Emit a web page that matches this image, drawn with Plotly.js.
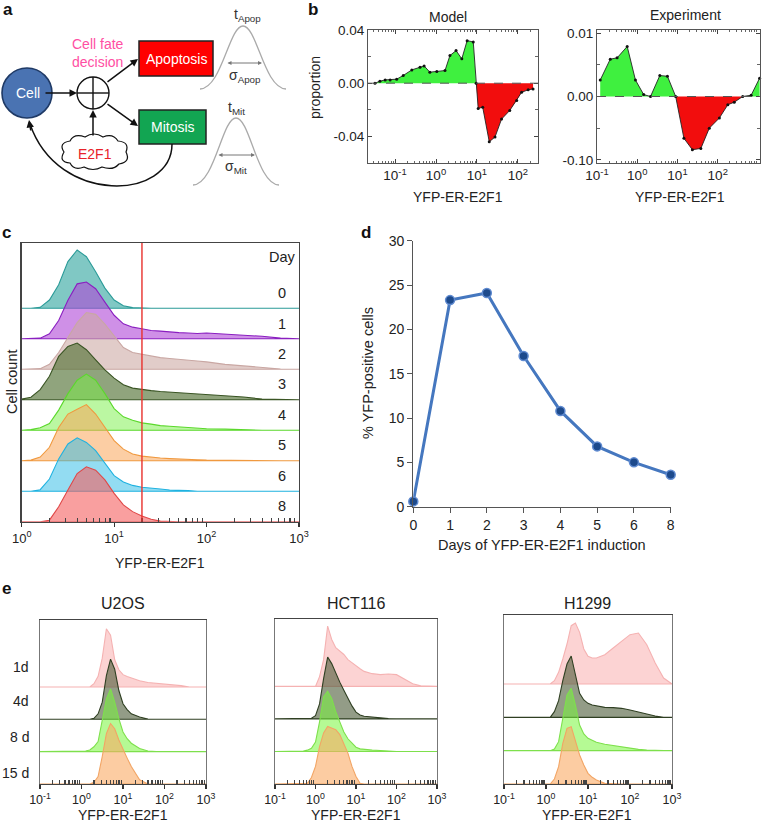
<!DOCTYPE html>
<html><head><meta charset="utf-8">
<script src="https://cdn.plot.ly/plotly-3.0.1.min.js"></script>
<style>html,body{margin:0;padding:0;background:#fff}#chart{width:768px;height:833px}</style>
</head><body><div id="chart"></div>
<script>
// ================= DATA =================
// Panel b – Model: log10(YFP-ER-E2F1) and proportion difference
const modelLogX = [-1.49,-1.37,-1.24,-1.12,-0.96,-0.80,-0.59,-0.39,-0.29,-0.15,0.02,0.22,0.34,0.49,0.63,0.76,0.91,0.98,1.03,1.14,1.30,1.44,1.60,1.80,1.97,2.09,2.25,2.37];
const modelProp = [0,0.0015,0.0025,0.0025,0.003,0.0058,0.010,0.012,0.013,0.0083,0.0088,0.0095,0.0208,0.0245,0.0183,0.032,0.031,0,-0.019,-0.018,-0.044,-0.0405,-0.027,-0.0205,-0.013,-0.0068,-0.005,-0.0043];
// Panel b – Experiment
const expLogX = [-0.92,-0.67,-0.50,-0.25,-0.045,0.16,0.33,0.56,0.75,0.955,1.16,1.37,1.58,1.79,2.04,2.25,2.41,2.62,2.83,3.04];
const expProp = [0.0026,0.0059,0.0061,0.0079,0.0026,0.0003,0,0.0033,0.0032,0,-0.0066,-0.0084,-0.0082,-0.005,-0.0034,-0.0013,-0.0009,0,0.0002,0.0029];
const expTickVals = [-0.01,0,0.01];
const expTickText = ['-0.10','0.00','0.01'];
const modelTickVals = [-0.04,0,0.04];
const modelTickText = ['-0.04','0.00','0.04'];

// Panel c – histograms per day (log10 intensity grid, heights in row units)
const cDays = ['0','1','2','3','4','5','6','8'];
const cLogGrid = [0,0.1,0.2,0.3,0.4,0.5,0.6,0.7,0.8,0.9,1.0,1.1,1.2,1.3,1.4,1.5,1.6,1.7,1.8,1.9,2.0,2.2,2.4,2.6,2.8,3.0];
const cDay0 = [0,0,0.03,0.27,0.77,1.53,1.91,1.69,1.2,0.66,0.27,0.08,0.02,0,0,0,0,0,0,0,0,0,0,0,0,0];
const cDay1 = [0,0,0.02,0.16,0.6,1.26,1.8,1.86,1.64,1.2,0.77,0.49,0.38,0.33,0.27,0.25,0.22,0.2,0.19,0.17,0.19,0.16,0.13,0.08,0.02,0];
const cDay2 = [0,0,0.02,0.16,0.55,1.04,1.53,1.86,1.8,1.48,1.09,0.71,0.55,0.49,0.44,0.38,0.35,0.33,0.3,0.27,0.24,0.16,0.11,0.05,0.01,0];
const cDay3 = [0.02,0.08,0.33,0.77,1.42,1.75,1.86,1.64,1.31,0.98,0.71,0.49,0.38,0.33,0.3,0.27,0.25,0.22,0.2,0.17,0.15,0.13,0.09,0.02,0,0];
const cDay4 = [0,0.02,0.08,0.22,0.66,1.2,1.64,1.84,1.64,1.2,0.71,0.44,0.33,0.24,0.2,0.15,0.13,0.11,0.09,0.07,0.05,0.04,0.01,0,0,0];
const cDay5 = [0,0.02,0.12,0.44,1.09,1.53,1.69,1.84,1.53,1.09,0.66,0.38,0.22,0.15,0.11,0.09,0.07,0.05,0.04,0.03,0.02,0.01,0,0,0,0];
const cDay6 = [0,0,0.05,0.4,1.06,1.55,1.75,1.6,1.33,0.9,0.51,0.3,0.19,0.13,0.09,0.07,0.04,0.04,0.02,0,0,0,0,0,0,0];
const cDay8 = [0,0,0,0.05,0.49,1.04,1.58,1.8,1.69,1.37,0.93,0.55,0.33,0.19,0.08,0.02,0,0,0,0,0,0,0,0,0,0];
const cGateThreshold = 20;

// Panel d – % YFP-positive cells
const dDays = ['0','1','2','3','4','5','6','8'];
const dPercent = [0.6,23.3,24.1,17.0,10.8,6.8,5.0,3.6];

// Panel e – cell lines, rows 1d/4d/8d/15d
const eRows = ['1d','4d','8 d','15 d'];
const eLogGrid = [-1,-0.4,-0.3,-0.2,-0.1,0,0.1,0.2,0.3,0.4,0.5,0.6,0.7,0.8,0.9,1.0,1.1,1.2,1.4,1.6,1.8,2.0,2.2,2.4,2.6,2.8,3.0];
const u2os1d  = [0,0,0,0,0,0,0,0,0.1,0.33,0.89,1.8,1.6,0.84,0.53,0.38,0.32,0.28,0.19,0.14,0.12,0.1,0.07,0.04,0,0,0];
const u2os4d  = [0,0,0,0,0,0,0,0,0.03,0.17,0.53,1.35,1.86,1.55,0.89,0.48,0.3,0.17,0.07,0.01,0,0,0,0,0,0,0];
const u2os8d  = [0,0,0,0,0,0,0.02,0.05,0.15,0.31,0.92,1.63,1.94,1.53,1.02,0.61,0.4,0.26,0.1,0.02,0,0,0,0,0,0,0];
const u2os15d = [0,0,0,0,0,0,0,0,0.05,0.23,0.85,1.56,1.87,1.71,1.36,1.05,0.8,0.54,0.13,0,0,0,0,0,0,0,0];
const hct1d  = [0,0,0,0,0,0,0.3,0.82,1.85,1.44,1.19,1.08,0.98,0.82,0.72,0.62,0.54,0.46,0.39,0.36,0.38,0.36,0.21,0.08,0.02,0,0];
const hct4d  = [0,0,0,0,0.02,0.1,0.46,1.24,1.9,1.7,1.39,1.13,0.88,0.62,0.4,0.21,0.12,0.08,0.05,0.03,0.01,0,0,0,0,0,0];
const hct8d  = [0,0,0.01,0.04,0.1,0.29,0.91,1.68,1.85,1.63,1.22,0.91,0.6,0.39,0.25,0.13,0.08,0.06,0.04,0.03,0.01,0,0,0,0,0,0];
const hct15d = [0,0,0,0.02,0.2,0.54,1.15,1.57,1.77,1.72,1.67,1.52,1.26,0.95,0.54,0.23,0.02,0,0,0,0,0,0,0,0,0,0];
const h1299_1d  = [0,0,0,0,0,0,0,0.1,0.35,0.75,1.2,1.75,1.83,1.55,1.05,0.83,0.78,0.78,0.88,1.08,1.28,1.48,1.53,1.18,0.63,0.18,0];
const h1299_4d  = [0,0,0,0,0,0,0,0.17,0.5,1.1,1.6,1.84,1.3,0.72,0.52,0.42,0.37,0.34,0.3,0.29,0.27,0.22,0.17,0.1,0.04,0,0];
const h1299_8d  = [0,0,0,0,0,0,0,0.05,0.27,0.97,1.67,1.87,1.37,0.77,0.5,0.37,0.3,0.25,0.19,0.15,0.12,0.07,0.04,0.02,0,0,0];
const h1299_15d = [0,0,0,0,0,0,0,0.15,0.52,1.22,1.67,1.72,1.32,0.87,0.57,0.32,0.2,0.12,0.02,0,0,0,0,0,0,0,0];

const logTickValsC = [1,10,100,1000];
const logTickTextC = ['10<sup>0</sup>','10<sup>1</sup>','10<sup>2</sup>','10<sup>3</sup>'];
const logTickValsB = [0.1,1,10,100];
const logTickTextB = ['10<sup>-1</sup>','10<sup>0</sup>','10<sup>1</sup>','10<sup>2</sup>'];
const logTickValsE = [0.1,1,10,100,1000];
const logTickTextE = ['10<sup>-1</sup>','10<sup>0</sup>','10<sup>1</sup>','10<sup>2</sup>','10<sup>3</sup>'];

// ================= HELPERS =================
const W = 768, H = 833;
const FONT = 'Liberation Sans, Arial, Helvetica, sans-serif';
const xd = (l, r) => [l / W, r / W];
const yd = (t, b) => [1 - b / H, 1 - t / H];
function ann(px, py, text, size, extra) {
  return Object.assign({xref:'paper', yref:'paper', x:px/W, y:1-py/H, text:text, showarrow:false,
    xanchor:'center', yanchor:'middle', font:{family:FONT, size:size||14, color:'#222'}}, extra||{});
}
function logMinor(lo, hi) { const v=[]; for (let d=lo; d<hi; d++) for (let m=2; m<=9; m++) v.push(m*Math.pow(10,d)); return v; }
function ridge(grid, h, base, xa, ya, lineColor, fillColor) {
  const xs = grid.map(l => Math.pow(10, l));
  const ys = h.map(v => base + v);
  return {type:'scatter', mode:'lines', x: xs.concat([xs[xs.length-1], xs[0]]), y: ys.concat([base, base]),
    fill:'toself', fillcolor: fillColor, line:{color: lineColor, width:1.1}, xaxis: xa, yaxis: ya,
    hoverinfo:'skip', showlegend:false};
}

const traces = [];

// ---- Panel b traces
function diffTraces(logX, vals, xa, ya) {
  const xs = logX.map(l => Math.pow(10, l));
  return [
    {type:'scatter', mode:'lines', x: xs, y: vals.map(v => Math.max(v,0)), fill:'tozeroy', fillcolor:'#3ff03f',
     line:{width:0, color:'rgba(0,0,0,0)'}, xaxis:xa, yaxis:ya, showlegend:false, hoverinfo:'skip'},
    {type:'scatter', mode:'lines', x: xs, y: vals.map(v => Math.min(v,0)), fill:'tozeroy', fillcolor:'#f20d0d',
     line:{width:0, color:'rgba(0,0,0,0)'}, xaxis:xa, yaxis:ya, showlegend:false, hoverinfo:'skip'},
    {type:'scatter', mode:'lines+markers', x: xs, y: vals, line:{color:'#222', width:0.9},
     marker:{size:3, color:'#111'}, xaxis:xa, yaxis:ya, showlegend:false, hoverinfo:'skip', cliponaxis:false}
  ];
}
traces.push(...diffTraces(modelLogX, modelProp, 'x2', 'y2'));
traces.push(...diffTraces(expLogX, expProp, 'x3', 'y3'));

// ---- Panel c traces (top row first, lower rows drawn over)
const cSeries = [cDay0,cDay1,cDay2,cDay3,cDay4,cDay5,cDay6,cDay8];
const cLines = ['#2b9b98','#8a1fc0','#c9a7a3','#3a5524','#5bd82c','#f0993f','#1fb2e0','#e04747'];
const cFills = ['rgba(60,170,165,0.65)','rgba(175,70,215,0.6)','rgba(205,170,165,0.6)','rgba(85,115,55,0.65)',
                'rgba(120,240,70,0.5)','rgba(250,165,90,0.55)','rgba(40,185,230,0.5)','rgba(245,95,95,0.6)'];
cSeries.forEach((s, i) => traces.push(ridge(cLogGrid, s, 7 - i, 'x4', 'y4', cLines[i], cFills[i])));

// ---- Panel d
traces.push({type:'scatter', mode:'lines+markers', x: dDays, y: dPercent, xaxis:'x5', yaxis:'y5',
  line:{color:'#4577bf', width:3}, marker:{size:9, color:'#1d4a8c', line:{color:'#5f8ad0', width:1.5}},
  cliponaxis:false, showlegend:false, hoverinfo:'skip'});

// ---- Panel e
const eLines = ['#f5b2b2','#2f3f22','#7ee04c','#f2a565'];
const eFills = ['rgba(250,175,175,0.55)','rgba(75,90,55,0.6)','rgba(120,245,60,0.55)','rgba(250,170,100,0.6)'];
[[u2os1d,u2os4d,u2os8d,u2os15d,'x6','y6'],[hct1d,hct4d,hct8d,hct15d,'x7','y7'],
 [h1299_1d,h1299_4d,h1299_8d,h1299_15d,'x8','y8']].forEach(p => {
  for (let i = 0; i < 4; i++) traces.push(ridge(eLogGrid, p[i], 3 - i, p[4], p[5], eLines[i], eFills[i]));
});

// ================= LAYOUT =================
function logAxisB(dom, range, anchor) {
  return {domain: dom, anchor: anchor, type:'log', range: range, tickmode:'array', tickvals: logTickValsB, ticktext: logTickTextB,
    ticks:'inside', ticklen:4, tickcolor:'#444', showline:true, linecolor:'#555', linewidth:1, mirror:'ticks',
    showgrid:false, zeroline:false, tickfont:{family:FONT, size:13.5, color:'#222'},
    minor:{tickmode:'array', tickvals: logMinor(-2,3), ticks:'inside', ticklen:2, tickcolor:'#666'}};
}
function ridgeX(dom, range, tv, tt, size, anchor) {
  return {domain: dom, anchor: anchor, type:'log', range: range, tickmode:'array', tickvals: tv, ticktext: tt,
    ticks:'outside', ticklen:4, tickcolor:'#333', tickwidth:1.2, showline:true, linecolor:'#444', linewidth:1.3, mirror:true,
    showgrid:false, zeroline:false, tickfont:{family:FONT, size:size, color:'#222'},
    minor:{tickmode:'array', tickvals: logMinor(range[0], range[1]), ticks:'inside', ticklen:4, tickcolor:'#444'}};
}
function ridgeY(dom, range, anchor) {
  return {domain: dom, anchor: anchor, range: range, showticklabels:false, ticks:'', showgrid:false, zeroline:false,
    showline:true, linecolor:'#444', linewidth:1.3, mirror:true};
}

const eFrameColor = '#777';
const layout = {
  width: W, height: H, margin:{l:0, r:0, t:0, b:0}, paper_bgcolor:'#fff', plot_bgcolor:'rgba(0,0,0,0)',
  font:{family:FONT, color:'#222'}, showlegend:false,
  // Panel a diagram canvas (1 unit = 1 px)
  xaxis: {domain: xd(0,300), range:[0,300], anchor:'y', visible:false},
  yaxis: {domain: yd(0,200), range:[200,0], anchor:'x', visible:false},
  // Panel b
  xaxis2: logAxisB(xd(368,538), [-1.66, 2.49], 'y2'),
  yaxis2: {domain: yd(30,163), anchor:'x2', range:[-0.06,0.04], tickmode:'array', tickvals: modelTickVals, ticktext: modelTickText,
    ticks:'inside', ticklen:4, tickcolor:'#444', showline:true, linecolor:'#555', mirror:'ticks', showgrid:false, zeroline:false,
    tickfont:{family:FONT, size:13.5, color:'#222'}, minor:{tickmode:'array', tickvals:[-0.02,0.02], ticks:'inside', ticklen:3, tickcolor:'#666'}},
  xaxis3: logAxisB(xd(597,760), [-1, 3.05], 'y3'),
  yaxis3: {domain: yd(30,163), anchor:'x3', range:[-0.0105,0.0105], tickmode:'array', tickvals: expTickVals, ticktext: expTickText,
    ticks:'inside', ticklen:4, tickcolor:'#444', showline:true, linecolor:'#555', mirror:'ticks', showgrid:false, zeroline:false,
    tickfont:{family:FONT, size:13.5, color:'#222'}, minor:{tickmode:'array', tickvals:[-0.005,0.005], ticks:'inside', ticklen:3, tickcolor:'#666'}},
  // Panel c
  xaxis4: ridgeX(xd(21.7,299), [0,3], logTickValsC, logTickTextC, 13, 'y4'),
  yaxis4: ridgeY(yd(243,521.7), [0, 9.14], 'x4'),
  // Panel d
  xaxis5: {domain: xd(413.3,670.7), anchor:'y5', type:'category', categoryorder:'array', categoryarray: dDays, range:[0,7],
    ticks:'outside', ticklen:5, tickcolor:'#555', showline:true, linecolor:'#555', linewidth:1.2, showgrid:false, zeroline:false,
    tickfont:{family:FONT, size:14, color:'#222'}},
  yaxis5: {domain: yd(240.7,506.7), anchor:'x5', range:[0,30], dtick:5, ticks:'outside', ticklen:5, tickcolor:'#555',
    showline:true, linecolor:'#555', linewidth:1.2, showgrid:false, zeroline:false, tickfont:{family:FONT, size:14, color:'#222'}},
  // Panel e
  xaxis6: ridgeX(xd(40,206), [-1,3], logTickValsE, logTickTextE, 12.5, 'y6'),
  yaxis6: ridgeY(yd(620,784), [0,5.07], 'x6'),
  xaxis7: ridgeX(xd(275,437), [-1,3], logTickValsE, logTickTextE, 12.5, 'y7'),
  yaxis7: ridgeY(yd(619,784), [0,5.07], 'x7'),
  xaxis8: ridgeX(xd(504,672), [-1,3], logTickValsE, logTickTextE, 12.5, 'y8'),
  yaxis8: ridgeY(yd(615,784), [0,5.07], 'x8'),
  shapes: [], annotations: []
};
['yaxis6','yaxis7','yaxis8'].forEach(k => layout[k].linecolor = eFrameColor);

const S = layout.shapes, A = layout.annotations;
// zero lines in b
S.push({type:'line', xref:'x2 domain', yref:'y2', x0:0, x1:1, y0:0, y1:0, line:{color:'#555', width:1, dash:'dash'}});
S.push({type:'line', xref:'x3 domain', yref:'y3', x0:0, x1:1, y0:0, y1:0, line:{color:'#555', width:1, dash:'dash'}});
// gate line in c
S.push({type:'line', xref:'x4', yref:'y4 domain', x0:cGateThreshold, x1:cGateThreshold, y0:0, y1:1, line:{color:'#e8302c', width:1.4}});

// ---- Panel a diagram shapes
const dx = {xref:'x', yref:'y'};
S.push(Object.assign({type:'circle', x0:2, x1:52, y0:68, y1:118, fillcolor:'#4a73b2', line:{color:'#1f3a66', width:1.6}}, dx));
S.push(Object.assign({type:'circle', x0:77, x1:109, y0:77, y1:109, fillcolor:'#fff', line:{color:'#111', width:1.4}}, dx));
S.push(Object.assign({type:'line', x0:93, x1:93, y0:77, y1:109, line:{color:'#111', width:1.4}}, dx));
S.push(Object.assign({type:'line', x0:77, x1:109, y0:93, y1:93, line:{color:'#111', width:1.4}}, dx));
S.push(Object.assign({type:'rect', x0:139, x1:213, y0:41, y1:76, fillcolor:'#ff0000', line:{color:'#222', width:1.5}}, dx));
S.push(Object.assign({type:'rect', x0:139, x1:206, y0:110, y1:144, fillcolor:'#12a552', line:{color:'#222', width:1.5}}, dx));
S.push(Object.assign({type:'path', path:'M 64 152 Q 58 143 70 141 Q 74 133 85 137 Q 94 131 103 137 Q 113 133 118 141 Q 130 142 126 152 Q 131 162 119 164 Q 113 171 102 167 Q 93 172 84 167 Q 74 171 70 163 Q 58 162 64 152 Z',
  fillcolor:'#fff', line:{color:'#111', width:1.2}}, dx));
S.push(Object.assign({type:'path', path:'M 172 144 C 172 200, 58 206, 30 124', line:{color:'#111', width:1.5}}, dx));
S.push(Object.assign({type:'path', path:'M 200 89 C 222 88, 229 26, 243 26 C 257 26, 264 88, 286 89', line:{color:'#aaa', width:1.3}}, dx));
S.push(Object.assign({type:'path', path:'M 193 185 C 215 184, 222 118, 236 118 C 250 118, 257 184, 279 185', line:{color:'#aaa', width:1.3}}, dx));

function arrow(x, y, ax, ay, extra) {
  return Object.assign({xref:'x', yref:'y', axref:'x', ayref:'y', x:x, y:y, ax:ax, ay:ay, text:'', showarrow:true,
    arrowhead:2, arrowsize:1, arrowwidth:1.5, arrowcolor:'#111', standoff:0, startstandoff:0}, extra||{});
}
A.push(arrow(77, 93, 44, 93));
A.push(arrow(138, 59, 106, 83));
A.push(arrow(138, 126, 106, 103));
A.push(arrow(93, 110, 93, 137));
A.push(arrow(29, 120, 31, 132));
A.push(arrow(262, 63, 226, 63, {arrowside:'end+start', arrowhead:2, startarrowhead:2, arrowwidth:1, arrowcolor:'#777', arrowsize:0.8, startarrowsize:0.8}));
A.push(arrow(255, 155, 217, 155, {arrowside:'end+start', arrowhead:2, startarrowhead:2, arrowwidth:1, arrowcolor:'#777', arrowsize:0.8, startarrowsize:0.8}));

// diagram texts
A.push(ann(28, 93, 'Cell', 14, {font:{family:FONT, size:14, color:'#fff'}}));
A.push(ann(98, 53, 'Cell fate<br>decision', 14, {font:{family:FONT, size:14, color:'#ff4fa3'}}));
A.push(ann(176, 59, 'Apoptosis', 14, {font:{family:FONT, size:14, color:'#fff'}}));
A.push(ann(173, 127, 'Mitosis', 14, {font:{family:FONT, size:14, color:'#fff'}}));
A.push(ann(95, 154, 'E2F1', 14, {font:{family:FONT, size:14, color:'#e8222a'}}));
A.push(ann(247, 15, 't<sub>Apop</sub>', 14, {font:{family:FONT, size:14, color:'#333'}}));
A.push(ann(245, 76, 'σ<sub>Apop</sub>', 14, {font:{family:FONT, size:14, color:'#333'}}));
A.push(ann(236, 108, 't<sub>Mit</sub>', 14, {font:{family:FONT, size:14, color:'#333'}}));
A.push(ann(236, 167, 'σ<sub>Mit</sub>', 14, {font:{family:FONT, size:14, color:'#333'}}));

// panel letters
const bold = s => '<b>' + s + '</b>';
[['a',8,9],['b',313,9],['c',6,233],['d',366,233],['e',6,588]].forEach(p =>
  A.push(ann(p[1], p[2], bold(p[0]), 17, {font:{family:FONT, size:17, color:'#111'}})));

// panel b texts
A.push(ann(448, 17, 'Model', 14));
A.push(ann(685, 15, 'Experiment', 14));
A.push(ann(315, 88, 'proportion', 14, {textangle:-90}));
A.push(ann(458, 197, 'YFP-ER-E2F1', 14));
A.push(ann(680, 197, 'YFP-ER-E2F1', 14));

// panel c texts (annotation x on a log axis is given in log10 units)
A.push(ann(12, 382, 'Cell count', 14.5, {textangle:-90}));
A.push(ann(160, 563, 'YFP-ER-E2F1', 14));
const dayLabelLogX = 2.82;
A.push({xref:'x4', yref:'y4', x: dayLabelLogX, y: 8.68, text:'Day', showarrow:false, font:{family:FONT, size:14.5, color:'#222'}});
cDays.forEach((d, i) => A.push({xref:'x4', yref:'y4', x: dayLabelLogX, y: 7 - i + 0.5, text: d, showarrow:false,
  font:{family:FONT, size:14.5, color:'#222'}}));

// panel d texts
A.push(ann(368, 373, '% YFP-positive cells', 14.5, {textangle:-90}));
A.push(ann(542, 545, 'Days of YFP-ER-E2F1 induction', 14.5));

// panel e texts
A.push(ann(123, 603, 'U2OS', 16));
A.push(ann(356, 603, 'HCT116', 16));
A.push(ann(587, 603, 'H1299', 16));
A.push(ann(123, 815, 'YFP-ER-E2F1', 14));
A.push(ann(356, 815, 'YFP-ER-E2F1', 14));
A.push(ann(587, 815, 'YFP-ER-E2F1', 14));
const eRowY = [667, 701, 737, 773];
eRows.forEach((r, i) => A.push(ann(31, eRowY[i], r, 14, {xanchor:'right'})));

Plotly.newPlot('chart', traces, layout, {displayModeBar:false, staticPlot:true});
</script>
</body></html>
